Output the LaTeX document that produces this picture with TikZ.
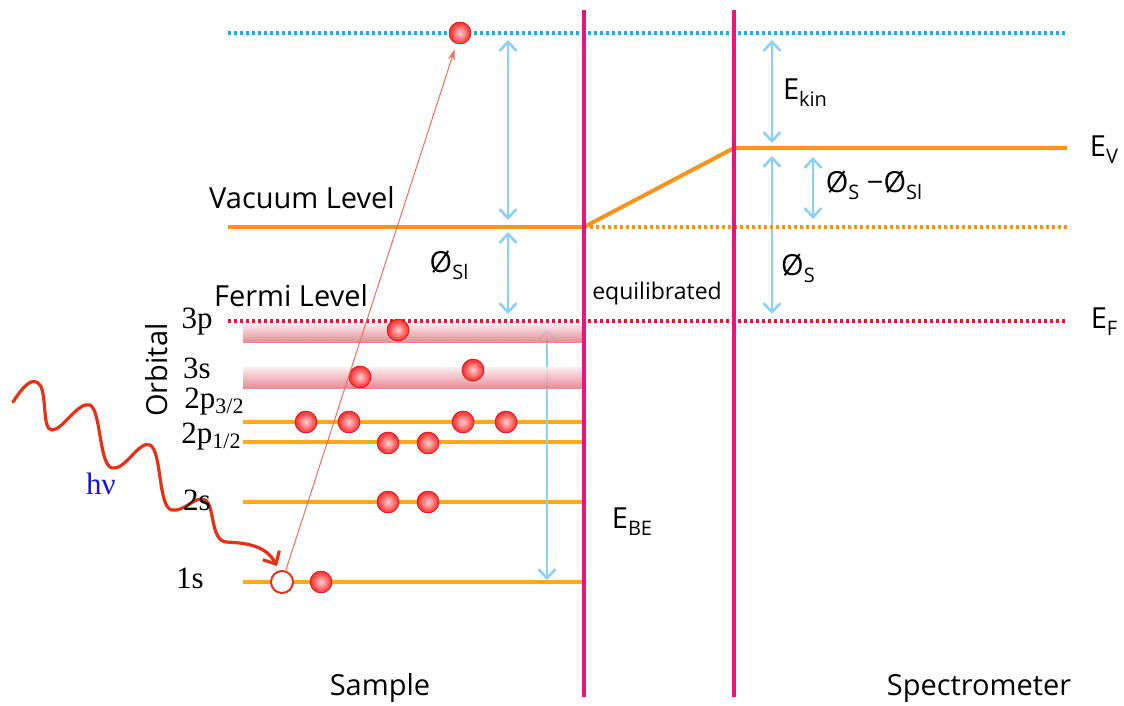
\documentclass[tikz,border=0pt]{standalone}
\usepackage{fontspec}
\setmainfont{Open Sans}
\newfontfamily\serif{Liberation Serif}
\usetikzlibrary{arrows.meta}
\definecolor{vorange}{RGB}{247,148,29}
\definecolor{oorange}{RGB}{250,168,28}
\definecolor{vpink}{RGB}{232,22,122}
\definecolor{dblue}{RGB}{41,168,224}
\definecolor{fred}{RGB}{228,22,60}
\definecolor{ablue}{RGB}{140,208,242}
\definecolor{wred}{RGB}{228,50,24}
\definecolor{hvblue}{RGB}{20,20,220}
\definecolor{bandlo}{RGB}{226,122,132}
\definecolor{bandhi}{RGB}{252,236,238}
\newcommand\lo[1]{\raisebox{-0.45ex}{\fontsize{20}{20}\selectfont #1}}
\newcommand\slo[1]{\raisebox{-0.3ex}{\fontsize{22}{22}\selectfont #1}}
\begin{document}
\begin{tikzpicture}[x=1pt,y=-1pt,
  lbl/.style={font=\fontsize{29}{34}\selectfont, inner sep=0pt},
  small/.style={font=\fontsize{23}{27}\selectfont, inner sep=0pt},
  orb/.style={font=\serif\fontsize{31}{35}\selectfont, inner sep=0pt},
  dotline/.style={line width=3.6pt, dash pattern=on 3.4pt off 2.6pt},
  barrow/.style={ablue, line width=2.6pt, {Straight Barb[length=9pt,width=17pt]}-{Straight Barb[length=9pt,width=17pt]}},
  electron/.style={circle, minimum size=22pt, inner sep=0pt, draw=red!80!black, line width=0.5pt, inner color=red!18, outer color=red!85},
  orbline/.style={oorange, line width=4pt},
  wall/.style={vpink, line width=4pt}]
\useasboundingbox (0,0) rectangle (1124,706);
\fill[white] (0,0) rectangle (1124,706);

% orbital lines
\coordinate (a1) at (243,422); \coordinate (a2) at (582,422);
\coordinate (b1) at (243,442); \coordinate (b2) at (582,442);
\coordinate (c1) at (243,502); \coordinate (c2) at (582,502);
\coordinate (d1) at (243,582); \coordinate (d2) at (582,582);
\draw[orbline] (a1) -- (a2);
\draw[orbline] (b1) -- (b2);
\draw[orbline] (c1) -- (c2);
\draw[orbline] (d1) -- (d2);

% blue arrows
\coordinate (p1) at (508,40); \coordinate (p2) at (508,220);
\coordinate (p3) at (508,232); \coordinate (p4) at (508,314);
\coordinate (p5) at (547,329); \coordinate (p6) at (547,580);
\coordinate (p7) at (772,40); \coordinate (p8) at (772,143);
\coordinate (p9) at (772,156); \coordinate (p10) at (772,314);
\coordinate (p11) at (813,157); \coordinate (p12) at (813,219);
\draw[barrow] (p1) -- (p2);
\draw[barrow] (p3) -- (p4);
\draw[barrow] (p5) -- (p6);
\draw[barrow] (p7) -- (p8);
\draw[barrow] (p9) -- (p10);
\draw[barrow] (p11) -- (p12);

% bands
\shade[top color=bandhi, bottom color=bandlo, opacity=0.85] (243,323) rectangle (582,342);
\shade[top color=bandhi, bottom color=bandlo, opacity=0.85] (243,367) rectangle (582,388);

% dotted levels
\coordinate (bl1) at (228,33); \coordinate (bl2) at (1067,33);
\coordinate (ol1) at (590,227); \coordinate (ol2) at (1067,227);
\coordinate (fl1) at (228,321); \coordinate (fl2) at (1067,321);
\draw[dotline, dblue] (bl1) -- (bl2);
\draw[dotline, vorange] (ol1) -- (ol2);
\draw[dotline, fred] (fl1) -- (fl2);

% vacuum level
\coordinate (v0) at (228,227); \coordinate (v1) at (584,227);
\coordinate (v2) at (734,148); \coordinate (v3) at (1067,148);
\draw[vorange, line width=4pt, line join=round] (v0) -- (v1) -- (v2) -- (v3);

% walls
\coordinate (w1a) at (584,10); \coordinate (w1b) at (584,697);
\coordinate (w2a) at (734,10); \coordinate (w2b) at (734,697);
\draw[wall] (w1a) -- (w1b);
\draw[wall] (w2a) -- (w2b);

% electrons
\node[electron] (e1) at (398,330) {};
\node[electron] (e2) at (360,377) {};
\node[electron] (e3) at (473,370) {};
\node[electron] (e4) at (306,422) {};
\node[electron] (e5) at (349,422) {};
\node[electron] (e6) at (463,422) {};
\node[electron] (e7) at (506,422) {};
\node[electron] (e8) at (388,443) {};
\node[electron] (e9) at (428,443) {};
\node[electron] (e10) at (388,502) {};
\node[electron] (e11) at (428,502) {};
\node[electron] (e12) at (321,582) {};
\node[electron] (etop) at (460,33) {};
\node[circle, minimum size=22pt, inner sep=0pt, draw=wred, line width=2pt, fill=white] (hole) at (282,582) {};

% emitted electron path
\draw[wred!70, line width=1pt, shorten >=6pt, -{Stealth[length=11pt,width=7pt]}] (hole) -- (etop);

% photon
\coordinate (ph0) at (13,402);
\coordinate (ph1) at (277,566);
\draw[wred, line width=3.2pt, line cap=round, -{Straight Barb[length=10pt,width=19pt]}]
  (ph0) .. controls (24,385) and (33,376) .. (40,385)
  .. controls (47,395) and (42,430) .. (52,430)
  .. controls (63,430) and (78,401) .. (90,405)
  .. controls (101,410) and (99,465) .. (112,468)
  .. controls (125,471) and (139,440) .. (150,445)
  .. controls (162,451) and (158,508) .. (172,510)
  .. controls (185,512) and (195,495) .. (205,500)
  .. controls (215,505) and (210,540) .. (226,542)
  .. controls (248,543) and (266,546) .. (ph1);

% labels
\node[lbl] (tvac) at (302,198) {Vacuum Level};
\node[lbl] (tfer) at (291,296) {Fermi Level};
\node[lbl] (tphisl) at (449,265) {Ø\lo{Sl}};
\node[small] (teq) at (657,294) {equilibrated};
\node[lbl] (tekin) at (805,93) {E\lo{kin}};
\node[lbl] (tdiff) at (874,185) {Ø\lo{S} −Ø\lo{Sl}};
\node[lbl] (tphis) at (798,268) {Ø\lo{S}};
\node[lbl] (tev) at (1104,150) {E\lo{V}};
\node[lbl] (tef) at (1104,322) {E\lo{F}};
\node[lbl] (tebe) at (632,522) {E\lo{BE}};
\node[lbl] (tsam) at (380,688) {Sample};
\node[lbl] (tspe) at (979,688) {Spectrometer};
\node[lbl, rotate=90] (torb) at (157,370) {Orbital};
\node[orb, text=hvblue] (thv) at (101,484) {hν};
\node[orb] (o3p) at (197,322) {3p};
\node[orb] (o3s) at (197,368) {3s};
\node[orb] (o2pa) at (214,402) {2p\slo{3/2}};
\node[orb] (o2pb) at (211,437) {2p\slo{1/2}};
\node[orb] (o2s) at (197,500) {2s};
\node[orb] (o1s) at (190,578) {1s};
\end{tikzpicture}
\end{document}
